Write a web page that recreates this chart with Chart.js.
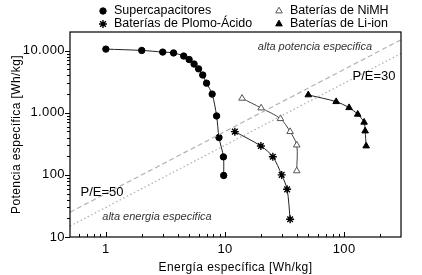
<!DOCTYPE html>
<html>
<head>
<meta charset="utf-8">
<script src="https://cdn.jsdelivr.net/npm/chart.js@4/dist/chart.umd.min.js"></script>
<style>
  html, body { margin: 0; padding: 0; background: #fff; }
  #wrap { width: 422px; height: 275px; position: relative; }
</style>
</head>
<body>
<div id="wrap"><canvas id="chart"></canvas></div>
<script>
// Ragone plot: specific energy [Wh/kg] vs specific power [W/kg], log-log
const superE = [1, 2, 3, 3.7, 4.5, 5, 5.5, 6, 6.5, 7, 7.8, 8.5, 8.9, 9.7, 9.75]
const superP = [10600, 10100, 9500, 9200, 8200, 7200, 6100, 5100, 4060, 3000, 2000, 890, 400, 195, 98]

const leadE = [12.1, 20, 25.2, 29.9, 33.2, 35.2]
const leadP = [497, 292, 196, 100, 58.6, 19.3]

const nimhE = [13.9, 20.1, 29.2, 35.2, 40, 40]
const nimhP = [1710, 1195, 804, 497, 302, 116]

const liE = [50, 85.7, 110, 130, 147, 150, 153]
const liP = [1940, 1510, 1208, 946, 703, 509, 292]

// constant P/E reference lines
const peLineE = [0.5, 300]
const pe50P = [25, 15000]
const pe30P = [15, 9000]

const xTicks = [1, 10, 100]
const xTickLabels = ['1', '10', '100']
const yTicks = [10, 100, 1000, 10000]
const yTickLabels = ['10', '100', '1.000', '10.000']

const legendLabels = ['Supercapacitores', 'Baterías de Plomo-Ácido', 'Baterías de NiMH', 'Baterías de Li-ion']

function pts(xs, ys) {
  return xs.map((x, i) => ({ x: x, y: ys[i] }))
}

// minor tick values for a log axis
function minorTicks(min, max) {
  const out = []
  for (let d = 0.1; d < max * 10; d *= 10) {
    for (let m = 2; m <= 9; m++) {
      const v = Math.round(m * d * 1000) / 1000
      if (v > min && v < max) out.push(v)
    }
  }
  return out
}

const FONT = '"Liberation Sans", Arial, sans-serif'

const series = [
  { label: legendLabels[0], data: pts(superE, superP), pointStyle: 'circle', radius: 3.2,
    backgroundColor: '#000', borderColor: '#000', lineColor: '#222', lineW: 1 },
  { label: legendLabels[1], data: pts(leadE, leadP), pointStyle: 'star', radius: 4,
    backgroundColor: '#000', borderColor: '#000', lineColor: '#222', lineW: 1 },
  { label: legendLabels[2], data: pts(nimhE, nimhP), pointStyle: 'triangle', radius: 3.8,
    backgroundColor: '#fff', borderColor: '#555', lineColor: '#444', lineW: 1 },
  { label: legendLabels[3], data: pts(liE, liP), pointStyle: 'triangle', radius: 3.8,
    backgroundColor: '#000', borderColor: '#000', lineColor: '#222', lineW: 1 }
]

const datasets = [
  {
    label: 'P/E=50', data: pts(peLineE, pe50P), showLine: true, pointRadius: 0,
    borderColor: '#b3b3b3', borderWidth: 1.2, borderDash: [5, 3]
  },
  {
    label: 'P/E=30', data: pts(peLineE, pe30P), showLine: true, pointRadius: 0,
    borderColor: '#b3b3b3', borderWidth: 1.3, borderDash: [1.5, 2.5]
  }
].concat(series.map(s => ({
  label: s.label,
  data: s.data,
  showLine: true,
  tension: 0.3,
  borderColor: s.lineColor,
  borderWidth: s.lineW,
  pointStyle: s.pointStyle,
  pointRadius: s.radius,
  pointBackgroundColor: s.backgroundColor,
  pointBorderColor: s.borderColor,
  pointBorderWidth: s.pointStyle === 'star' ? 1.4 : 1
})))

// frame, minor ticks, legend and text annotations
const extras = {
  id: 'extras',
  beforeDraw(chart) {
    // axis text in the reference is a little spread out
    chart.ctx.letterSpacing = '0.4px'
  },
  afterDraw(chart) {
    const ctx = chart.ctx
    const a = chart.chartArea
    const xs = chart.scales.x
    const ys = chart.scales.y
    ctx.save()
    ctx.strokeStyle = '#000'
    ctx.lineWidth = 1.2
    ctx.strokeRect(a.left, a.top, a.right - a.left, a.bottom - a.top)

    ctx.lineWidth = 1
    ctx.beginPath()
    xTicks.forEach(v => {
      const p = Math.round(xs.getPixelForValue(v)) + 0.5
      ctx.moveTo(p, a.bottom); ctx.lineTo(p, a.bottom - 5)
    })
    minorTicks(0.5, 300).forEach(v => {
      const p = Math.round(xs.getPixelForValue(v)) + 0.5
      ctx.moveTo(p, a.bottom); ctx.lineTo(p, a.bottom - 3)
    })
    yTicks.forEach(v => {
      const p = Math.round(ys.getPixelForValue(v)) + 0.5
      ctx.moveTo(a.left, p); ctx.lineTo(a.left - 5, p)
    })
    minorTicks(10, 20000).forEach(v => {
      const p = Math.round(ys.getPixelForValue(v)) + 0.5
      ctx.moveTo(a.left, p); ctx.lineTo(a.left - 3, p)
    })
    ctx.stroke()

    // legend in two columns above the plot
    const cols = [[103, 11], [103, 24], [279, 11], [279, 24]]
    ctx.letterSpacing = '0px'
    series.forEach((s, i) => {
      const [lx, ly] = cols[i]
      ctx.fillStyle = s.backgroundColor
      ctx.strokeStyle = s.borderColor
      ctx.lineWidth = s.pointStyle === 'star' ? 1.4 : 1
      Chart.helpers.drawPoint(ctx, { pointStyle: s.pointStyle, radius: s.radius, borderWidth: ctx.lineWidth }, lx, ly)
      ctx.fillStyle = '#000'
      ctx.font = '12.5px ' + FONT
      ctx.textAlign = 'left'
      ctx.textBaseline = 'middle'
      ctx.fillText(s.label, lx + 11, ly)
    })

    // annotations
    ctx.fillStyle = '#333'
    ctx.font = 'italic 11px ' + FONT
    ctx.textAlign = 'center'
    ctx.fillText('alta potencia especifica', 315, 47)
    ctx.fillText('alta energia especifica', 157, 217)
    ctx.fillStyle = '#000'
    ctx.font = '13px ' + FONT
    ctx.fillText('P/E=30', 374, 76)
    ctx.fillText('P/E=50', 102, 192)
    ctx.restore()
  }
}

new Chart(document.querySelector('#chart').getContext('2d'), {
  type: 'scatter',
  data: { datasets: datasets },
  options: {
    responsive: true,
    maintainAspectRatio: false,
    animation: false,
    devicePixelRatio: 1,
    layout: { padding: { top: 32, right: 21, left: 0, bottom: 0 } },
    plugins: { legend: { display: false }, tooltip: { enabled: false } },
    scales: {
      x: {
        type: 'logarithmic',
        min: 0.5,
        max: 300,
        afterBuildTicks: scale => { scale.ticks = xTicks.map(v => ({ value: v })) },
        afterFit: scale => { scale.height = 38 },
        grid: { display: false, drawTicks: true, tickLength: 4 },
        border: { display: false },
        ticks: {
          color: '#000', padding: 1, maxRotation: 0,
          font: { family: FONT, size: 13 },
          callback: v => xTickLabels[xTicks.indexOf(v)] ?? ''
        },
        title: {
          display: true, text: 'Energía específica [Wh/kg]', color: '#000',
          font: { family: FONT, size: 12 }, padding: { top: 5, bottom: 0 }
        }
      },
      y: {
        type: 'logarithmic',
        min: 10,
        max: 20000,
        afterBuildTicks: scale => { scale.ticks = yTicks.map(v => ({ value: v })) },
        afterFit: scale => { scale.width = 70 },
        grid: { display: false, drawTicks: true, tickLength: 4 },
        border: { display: false },
        ticks: {
          color: '#000', padding: 1,
          font: { family: FONT, size: 13 },
          callback: v => yTickLabels[yTicks.indexOf(v)] ?? ''
        },
        title: {
          display: true, text: 'Potencia específica [Wh/kg]', color: '#000',
          font: { family: FONT, size: 12 }, padding: { top: 9, bottom: 0 }
        }
      }
    }
  },
  plugins: [extras]
})
</script>
</body>
</html>
